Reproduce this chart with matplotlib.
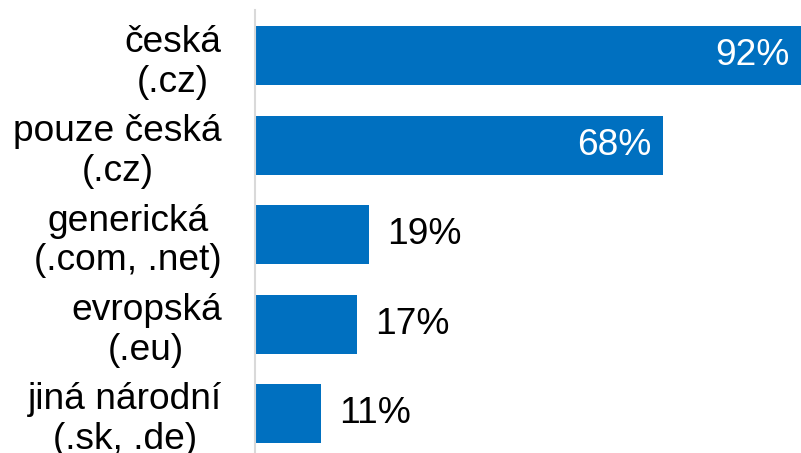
import matplotlib.pyplot as plt

plt.rcParams["font.family"] = ["Liberation Sans", "DejaVu Sans"]

# Data
categories = ["česká\n(.cz)", "pouze česká\n(.cz)", "generická\n(.com, .net)",
              "evropská\n(.eu)", "jiná národní\n(.sk, .de)"]
values = [92, 68, 19, 17, 11]
labels = ["92%", "68%", "19%", "17%", "11%"]

blue = "#0070C0"

fig = plt.figure(figsize=(8.01, 4.53), dpi=100)
ax = fig.add_axes([255 / 801, 0, 546 / 801, 443 / 453])

pos = list(range(len(values)))
bars = ax.barh(pos, values, height=0.66, color=blue)

ax.set_xlim(0, 91.0)
ax.set_ylim(4.442, -0.514)

ax.set_yticks(pos)
ax.set_yticklabels(categories, fontsize=26.7, linespacing=1.17)
for t in ax.get_yticklabels():
    t.set_multialignment("center")
ax.tick_params(axis="y", length=0, pad=24)
ax.set_xticks([])

for s in ["top", "right", "bottom"]:
    ax.spines[s].set_visible(False)
ax.spines["left"].set_color("#d9d9d9")
ax.spines["left"].set_linewidth(1.5)

# Value labels: inside for long bars, outside for short ones
for p, v, lab in zip(pos, values, labels):
    if v > 50:
        ax.annotate(lab, xy=(min(v, 91.0), p), xytext=(-8, 0),
                    textcoords="offset points", ha="right", va="center",
                    color="white", fontsize=26.7)
    else:
        ax.annotate(lab, xy=(v, p), xytext=(13, 0),
                    textcoords="offset points", ha="left", va="center",
                    color="black", fontsize=26.7)

fig.savefig("out.png", dpi=100)
